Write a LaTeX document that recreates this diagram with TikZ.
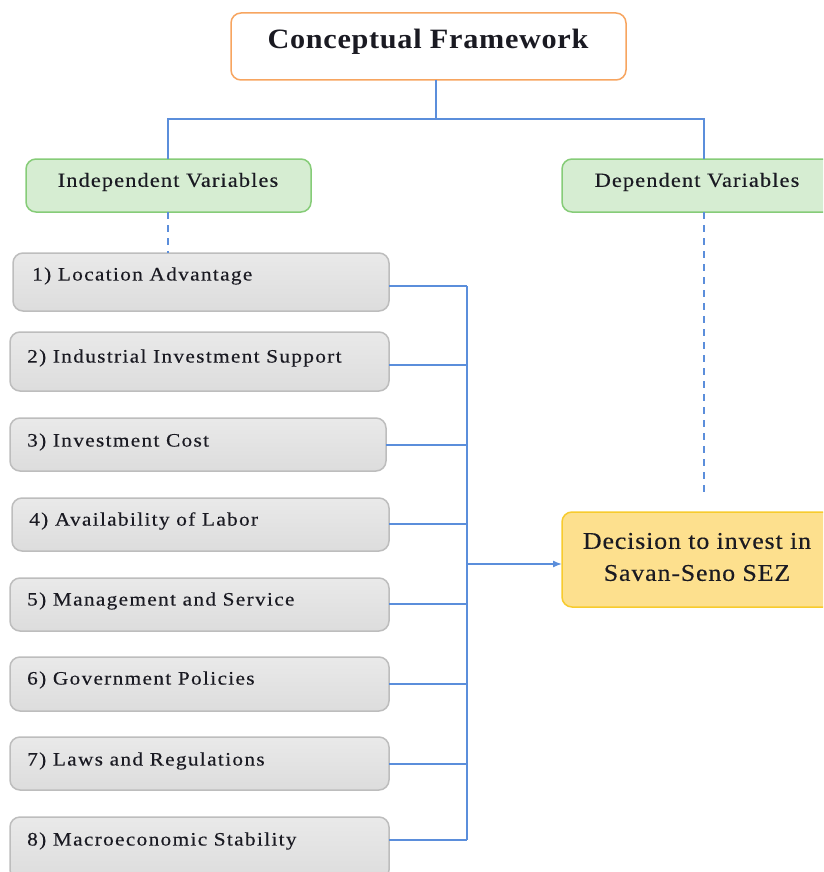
\documentclass[tikz,border=0pt]{standalone}
\usepackage{fontspec}
\setmainfont{Liberation Serif}
\usetikzlibrary{arrows.meta}
\definecolor{orangeb}{HTML}{F7A560}
\definecolor{greenf}{HTML}{D6EDD2}
\definecolor{greenb}{HTML}{86CC78}
\definecolor{grayb}{HTML}{BDBDBD}
\definecolor{blueline}{HTML}{5B8EDB}
\definecolor{yellowf}{HTML}{FDE08E}
\definecolor{yellowb}{HTML}{F7CB2E}
\definecolor{txtc}{HTML}{1A1A22}
\tikzset{
  x=1pt, y=-1pt,
  box/.style={rounded corners=10pt, line width=1.5pt, inner sep=0pt},
  titlebox/.style={box, draw=orangeb, fill=white},
  varbox/.style={box, draw=greenb, fill=greenf},
  itembox/.style={box, draw=grayb, top color=gray!17, bottom color=gray!27},
  decbox/.style={box, draw=yellowb, fill=yellowf},
  itemtext/.style={anchor=west, inner sep=0pt, text=txtc, font=\fontsize{19}{22}\selectfont\addfontfeature{FakeStretch=1.12,LetterSpace=7,FakeBold=0.3}},
  vartext/.style={inner sep=0pt, text=txtc, font=\fontsize{20}{22}\selectfont\addfontfeature{FakeStretch=1.12,LetterSpace=5.5,FakeBold=0.3}},
  conn/.style={draw=blueline, line width=1.4pt},
  dconn/.style={conn, dash pattern=on 7pt off 6pt},
}
\begin{document}
\begin{tikzpicture}
\useasboundingbox (0,0) rectangle (823,872);
\clip (0,0) rectangle (823,872);
% title
\path[titlebox] (231,13) rectangle (626,80);
\node[inner sep=0pt, text=txtc, font=\fontsize{28}{30}\selectfont\bfseries\addfontfeature{FakeStretch=1.08,LetterSpace=2.5}] (titletxt) at (428,41.5) {Conceptual Framework};
% variable boxes
\path[varbox] (26,159) rectangle (311,212);
\node[vartext] (indeptxt) at (168,182) {Independent Variables};
\path[varbox] (562,159) rectangle (840,212);
\node[vartext] (deptxt) at (697,182) {Dependent Variables};
\coordinate (titleb) at (436,80);
\coordinate (indepTop) at (168,159);
\coordinate (depTop) at (704,159);
\coordinate (indepBot) at (168,212);
\coordinate (depBot) at (704,212);
\draw[conn] (titleb) -- (436,119) coordinate (hub);
\draw[conn] (indepTop) |- (hub) -| (depTop);
% items
\foreach \i/\xl/\xr/\yt/\yb/\tx/\ty/\txt in {
  1/13/389/253/311/32/276/{1) Location Advantage},
  2/10/389/332/391/27/358/{2) Industrial Investment Support},
  3/10/386/418/471/27/442/{3) Investment Cost},
  4/12/389/498/551/29/521/{4) Availability of Labor},
  5/10/389/578/631/27/601/{5) Management and Service},
  6/10/389/657/711/27/680/{6) Government Policies},
  7/10/389/737/790/27/761/{7) Laws and Regulations},
  8/10/389/817/880/27/841/{8) Macroeconomic Stability}}{
  \path[itembox] (\xl,\yt) rectangle (\xr,\yb);
  \node[itemtext] (itemtxt\i) at (\tx,\ty) {\txt};
}
\coordinate (r1) at (389,286);
\coordinate (r2) at (389,365);
\coordinate (r3) at (386,445);
\coordinate (r4) at (389,524);
\coordinate (r5) at (389,604);
\coordinate (r6) at (389,684);
\coordinate (r7) at (389,764);
\coordinate (r8) at (389,840);
\coordinate (busTop) at (467,286);
\coordinate (busBot) at (467,840);
\coordinate (busMid) at (467,564);
\draw[dconn] (indepBot) -- (168,253);
\draw[dconn] (depBot) -- (704,498);
\foreach \i in {1,...,8}{ \draw[conn] (r\i) -- (467,0 |- r\i); }
\draw[conn] (busTop) -- (busBot);
% decision
\path[decbox] (562,512) rectangle (840,607);
\node[inner sep=0pt, align=center, text=txtc, font=\fontsize{24}{32}\selectfont\addfontfeature{FakeStretch=1.08,LetterSpace=3.5,FakeBold=0.3}] (dec) at (697,557) {Decision to invest in\\Savan-Seno SEZ};
\coordinate (decL) at (562,564);
\draw[conn, -{Latex[length=9pt,width=7pt]}] (busMid) -- (decL);
\end{tikzpicture}
\end{document}
